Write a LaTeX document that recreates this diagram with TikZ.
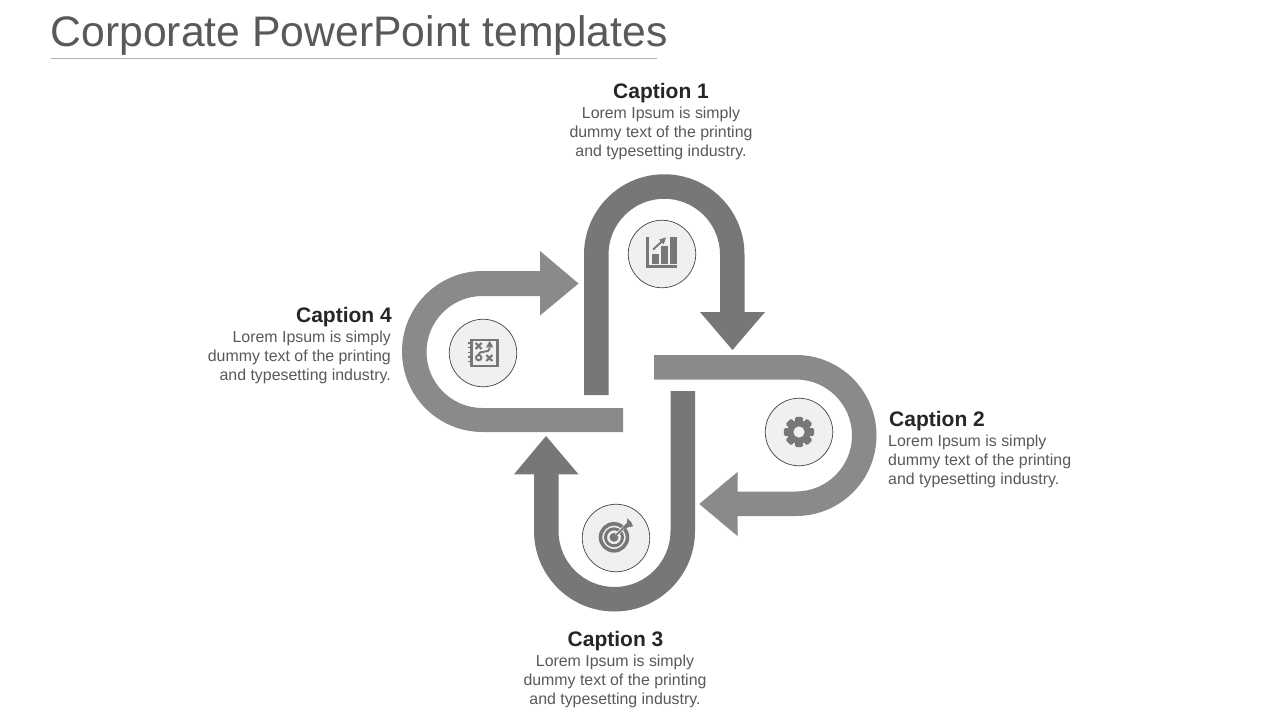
\documentclass[tikz,border=0pt]{standalone}
\usepackage{fontspec}
\setmainfont{Liberation Sans}
\definecolor{arrowdark}{HTML}{777777}
\definecolor{arrowlight}{HTML}{8A8A8A}
\definecolor{icongrey}{HTML}{777777}
\definecolor{discfill}{HTML}{F0F0F0}
\definecolor{bodygrey}{HTML}{595959}
\definecolor{headgrey}{HTML}{262626}
\tikzset{
  disc/.style={circle,draw=black!75,line width=0.7pt,fill=discfill,minimum size=67.5pt,inner sep=0pt},
  head/.style={font=\fontsize{21}{24}\selectfont\bfseries,text=headgrey,inner sep=0pt},
  bodyc/.style={font=\fontsize{15.9}{19}\selectfont,text=bodygrey,inner sep=0pt,align=center},
  bodyr/.style={bodyc,align=right,anchor=east},
  bodyl/.style={bodyc,align=left,anchor=west},
  icl/.style={draw=icongrey,line width=1.9pt},
  icf/.style={fill=icongrey},
}
\begin{document}
\begin{tikzpicture}[x=1pt,y=-1pt]
\useasboundingbox (0,0) rectangle (1280,720);
\fill[white] (0,0) rectangle (1280,720);
% title
\node[anchor=base west,inner sep=0pt,text=bodygrey,font=\fontsize{42.7}{50}\selectfont] (title) at (50.5,46) {Corporate PowerPoint templates};
\draw[draw=black!30,line width=1pt] (51,58) -- (657,58);
% arrows
\fill[arrowlight] (654,355) -- (796,355) arc (270:450:80.5) -- (737.5,516) -- (737.5,536) -- (699.3,504) -- (737.5,472) -- (737.5,491.5) -- (796,491.5) arc (450:270:56) -- (654,379.5) -- cycle;
\fill[arrowlight] (623,432) -- (482.5,432) arc (90:270:80.5) -- (540,271) -- (540,251) -- (578.5,283.5) -- (540,315.5) -- (540,296) -- (482.5,296) arc (270:90:56) -- (623,408) -- cycle;
\fill[arrowdark] (584,395) -- (584,254.5) arc (180:360:80.25) -- (744.5,312) -- (765,312) -- (732.5,350) -- (700,312) -- (720,312) -- (720,254.5) arc (360:180:55.75) -- (608.5,395) -- cycle;
\fill[arrowdark] (695,391) -- (695,531) arc (0:180:80.5) -- (534,474.3) -- (514,474.3) -- (546,436) -- (578.5,474.3) -- (558.5,474.3) -- (558.5,531) arc (180:0:56) -- (670.5,391) -- cycle;
% discs
\node[disc] (d1) at (662,254) {};
\node[disc] (d2) at (799,432) {};
\node[disc] (d3) at (616,538) {};
\node[disc] (d4) at (483,353) {};
% chart icon
\begin{scope}[shift={(625,215)},x=0.3333pt,y=-0.3333pt]
\draw[icl,line width=2.6pt] (67,66) -- (67,154) -- (156,154);
\fill[icf] (80,117) rectangle (101,146);
\fill[icf] (107,94) rectangle (128,146);
\fill[icf] (134,67) rectangle (156,146);
\draw[icl,line width=1.9pt] (84,104) -- (112,78);
\fill[icf] (123,67) -- (116,88) -- (102,74) -- cycle;
\end{scope}
% notebook icon
\begin{scope}[shift={(445,317)},x=0.3333pt,y=-0.3333pt]
\draw[icl,line width=2.8pt] (79,69) rectangle (157,147);
\foreach \yy in {78,92,106,120,134}{\draw[icl,line width=1.5pt] (68,\yy) -- (78,\yy);}
\draw[icl,line width=2.1pt] (92,78) -- (110,96) (110,78) -- (92,96);
\draw[icl,line width=2.1pt] (124,114) -- (142,132) (142,114) -- (124,132);
\draw[icl,line width=1.9pt] (101,122) circle (8);
\draw[icl,line width=1.9pt] (101,112) .. controls (101,98) and (134,112) .. (134,92);
\fill[icf] (134,72) -- (145,91) -- (123,91) -- cycle;
\end{scope}
% gear icon
\begin{scope}[shift={(799,432)}]
\foreach \aa in {0,45,...,315}{\fill[icf,rotate=\aa,rounded corners=1.5pt] (-4,-15.2) rectangle (4,0);}
\fill[icf] (0,0) circle (11.6);
\fill[discfill] (0,0) circle (5.6);
\end{scope}
% target icon
\begin{scope}[shift={(614,537.3)}]
\draw[icl,line width=3.6pt] (0,0) circle (13.5);
\draw[icl,line width=3pt] (0,0) circle (8.5);
\fill[icf] (0,0) circle (4.5);
\draw[discfill,line width=3pt] (2,-2) -- (12,-12);
\draw[icl,line width=1.7pt] (0,0) -- (13,-13);
\fill[icf] (9,-10) -- (13,-14.5) -- (13,-19) -- (17,-15.5) -- (19,-11) -- (14,-10) -- (11,-8) -- cycle;
\end{scope}
% captions
\node[head] (c1) at (661,93) {Caption 1};
\node[bodyc] (t1) at (661,133) {Lorem Ipsum is simply\\dummy text of the printing\\and typesetting industry.};
\node[head,anchor=west] (c2) at (889,421) {Caption 2};
\node[bodyl] (t2) at (888,461) {Lorem Ipsum is simply\\dummy text of the printing\\and typesetting industry.};
\node[head] (c3) at (615.5,641) {Caption 3};
\node[bodyc] (t3) at (615,681) {Lorem Ipsum is simply\\dummy text of the printing\\and typesetting industry.};
\node[head,anchor=east] (c4) at (392,317) {Caption 4};
\node[bodyr] (t4) at (391,357) {Lorem Ipsum is simply\\dummy text of the printing\\and typesetting industry.};
\end{tikzpicture}
\end{document}
